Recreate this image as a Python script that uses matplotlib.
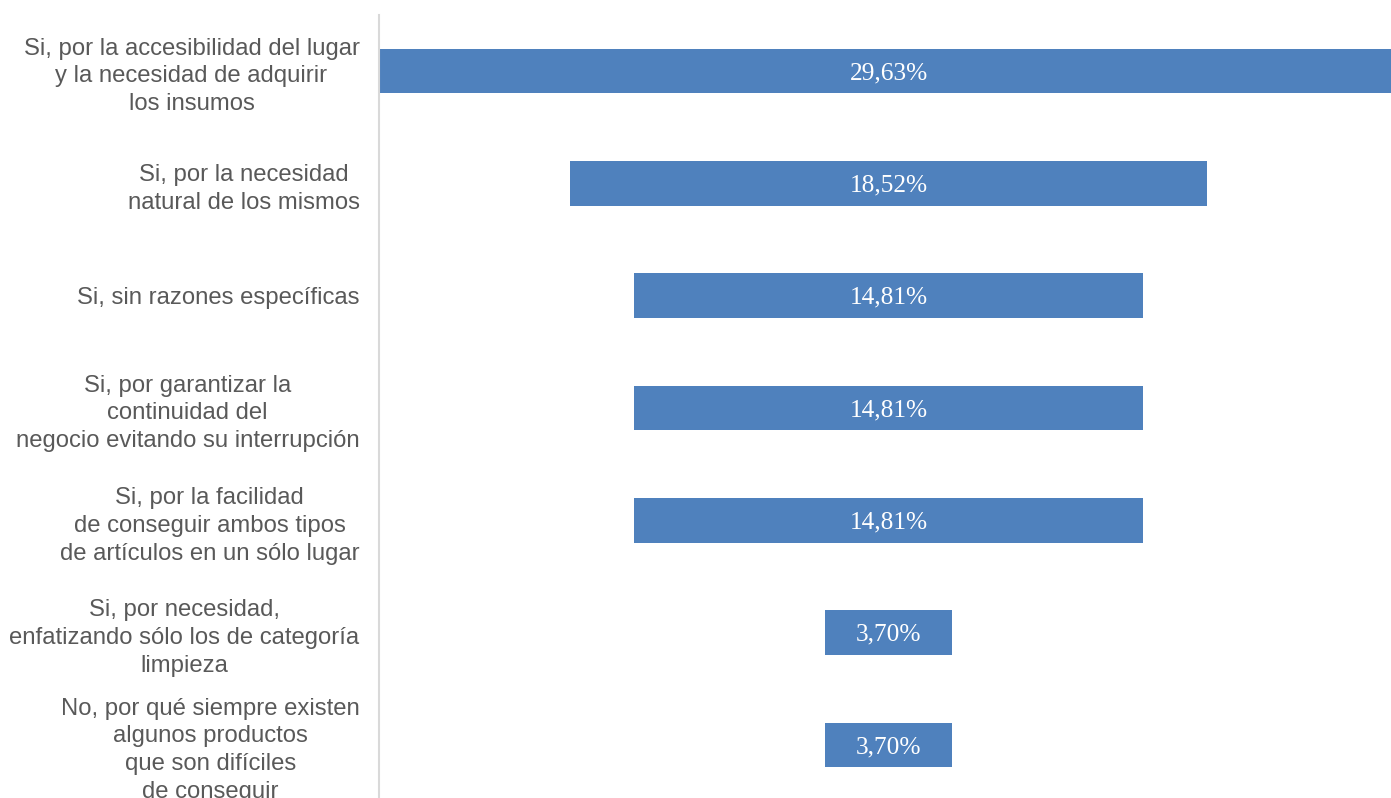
import numpy as np
import matplotlib.pyplot as plt

# Datos
categorias = [
    "Si, por la accesibilidad del lugar\ny la necesidad de adquirir\nlos insumos",
    "Si, por la necesidad\nnatural de los mismos",
    "Si, sin razones específicas",
    "Si, por garantizar la\ncontinuidad del\nnegocio evitando su interrupción",
    "Si, por la facilidad\nde conseguir ambos tipos\nde artículos en un sólo lugar",
    "Si, por necesidad,\nenfatizando sólo los de categoría\nlimpieza",
    "No, por qué siempre existen\nalgunos productos\nque son difíciles\nde conseguir",
]
valores = np.array([29.63, 18.52, 14.81, 14.81, 14.81, 3.70, 3.70])
etiquetas = ["29,63%", "18,52%", "14,81%", "14,81%", "14,81%", "3,70%", "3,70%"]

fig = plt.figure(figsize=(13.91, 7.98), dpi=100)
ax = fig.add_axes([379 / 1391, 0, 1 - 379 / 1391, 1 - 15 / 798])

y = np.arange(len(valores))
ax.barh(y, valores, left=-valores / 2, height=0.4, color="#4F81BD", edgecolor="none")

for yi, v, t in zip(y, valores, etiquetas):
    ax.text(0, yi + 0.02, t, ha="center", va="center", color="white",
            fontsize=18.3, family="Liberation Serif")

ax.set_xlim(-14.83, 14.62)
ax.set_ylim(6.472, -0.4985)

ax.set_yticks(y)
ax.set_yticklabels(categorias, fontsize=17.2, color="#595959", family="Liberation Sans",
                   linespacing=1.35)
for lbl in ax.get_yticklabels():
    lbl.set_multialignment("center")
ax.tick_params(axis="y", length=0, pad=14)
ax.set_xticks([])

for s in ["top", "right", "bottom"]:
    ax.spines[s].set_visible(False)
ax.spines["left"].set_color("#D9D9D9")
ax.spines["left"].set_linewidth(1.5)

fig.savefig("out.png", dpi=100)
